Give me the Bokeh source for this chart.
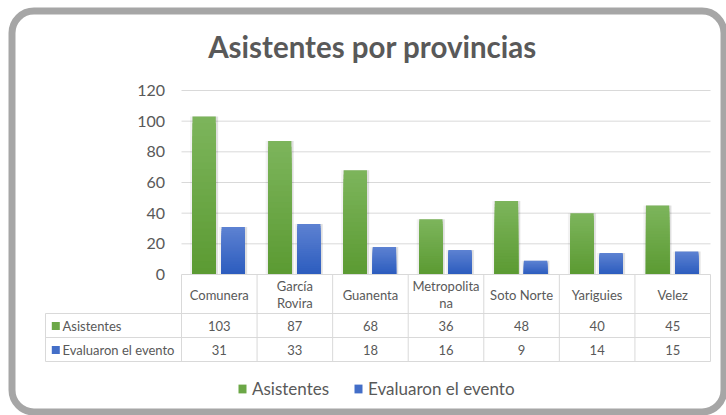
from bokeh.plotting import figure
from bokeh.models import Range1d, Legend, LegendItem, ColumnDataSource
from bokeh.core.properties import value
from bokeh.embed import file_html
from bokeh.resources import INLINE

# ---------------- data ----------------
title = "Asistentes por provincias"
provincias = ["Comunera", "García Rovira", "Guanenta", "Metropolitana",
              "Soto Norte", "Yariguies", "Velez"]
header_lines = [["Comunera"], ["García", "Rovira"], ["Guanenta"],
                ["Metropolita", "na"], ["Soto Norte"], ["Yariguies"], ["Velez"]]
asistentes = [103, 87, 68, 36, 48, 40, 45]
evaluaron = [31, 33, 18, 16, 9, 14, 15]
series_names = ["Asistentes", "Evaluaron el evento"]
y_ticks = [0, 20, 40, 60, 80, 100, 120]

# ---------------- layout helpers (pixel -> data) ----------------
W, H = 726, 415
COL0 = 181.0
COLW = 529.0 / 7
Y0 = 274.0
PPU = 184.0 / 120


def dx(px):
    return (px - COL0) / COLW


def dy(py):
    return (Y0 - py) / PPU


TXT = "#595959"
GRID = "#d9d9d9"
GREEN_TOP, GREEN_BOT = "#7db55c", "#5b9a32"
BLUE_TOP, BLUE_BOT = "#5d82d2", "#2c5cbe"
FONT = value("Lato")


def hex2rgb(h):
    return tuple(int(h[i:i + 2], 16) for i in (1, 3, 5))


def lerp(c_bot, c_top, t):
    a, b = hex2rgb(c_bot), hex2rgb(c_top)
    return "#%02x%02x%02x" % tuple(round(a[j] + (b[j] - a[j]) * t) for j in range(3))


p = figure(width=W, height=H, output_backend="svg", toolbar_location=None,
           x_range=Range1d(dx(0), dx(W)),
           y_range=Range1d(dy(H), dy(0)),
           x_axis_location=None, y_axis_location=None,
           min_border=0, outline_line_color=None,
           background_fill_color="white", border_fill_color="white")
p.grid.visible = False

# rounded frame
p.quad(left=dx(11.5), right=dx(723.5), top=dy(10.5), bottom=dy(411.5),
       fill_color=None, line_color="#a6a6a6", line_width=7, border_radius=22)

# title
p.text(x=[dx(372)], y=[dy(45.5)], text=[title], text_font=FONT,
       text_font_size="29.5px", text_font_style="bold", text_color=TXT,
       text_align="center", text_baseline="middle")

# gridlines and y tick labels
n = len(provincias)
p.segment(x0=[0] * (len(y_ticks) - 1), x1=[n] * (len(y_ticks) - 1),
          y0=y_ticks[1:], y1=y_ticks[1:], line_color=GRID, line_width=1)
p.text(x=[dx(164.5)] * len(y_ticks), y=y_ticks, text=[str(t) for t in y_ticks],
       text_font=FONT, text_font_size="16px", text_color=TXT,
       text_align="right", text_baseline="middle")

# bars (soft shadow + vertical gradient made of overlapping layers)
idx = list(range(n))
BW = 0.308
OFF_G, OFF_B = -0.2, 0.185
for vals, off in ((asistentes, OFF_G), (evaluaron, OFF_B)):
    xs = [i + 0.5 + off for i in idx]
    p.vbar(x=xs, top=vals, bottom=0, width=BW + 5 / COLW,
           fill_color="black", fill_alpha=0.05, line_color=None)
    p.vbar(x=[x + 0.8 / COLW for x in xs], top=vals, bottom=0, width=BW + 2.5 / COLW,
           fill_color="black", fill_alpha=0.08, line_color=None)

K = 24
renderers = []
for vals, off, ctop, cbot in ((asistentes, OFF_G, GREEN_TOP, GREEN_BOT),
                              (evaluaron, OFF_B, BLUE_TOP, BLUE_BOT)):
    d = dict(x=[], top=[], color=[])
    for k in range(K):
        frac = (K - k) / K
        for i in idx:
            d["x"].append(i + 0.5 + off)
            d["top"].append(vals[i] * frac)
            d["color"].append(lerp(cbot, ctop, (K - k - 0.5) / K))
    r = p.vbar(x="x", top="top", bottom=0, width=BW, source=ColumnDataSource(d),
               fill_color="color", line_color=None)
    renderers.append(r)

# table lines
row_y = [dy(313), dy(337), dy(361)]
p.segment(x0=[0], x1=[n], y0=[0], y1=[0], line_color=GRID, line_width=1)
p.segment(x0=[dx(45)] * 3, x1=[n] * 3, y0=row_y, y1=row_y,
          line_color=GRID, line_width=1)
p.segment(x0=list(range(n + 1)), x1=list(range(n + 1)),
          y0=[0] * (n + 1), y1=[dy(361)] * (n + 1), line_color=GRID, line_width=1)
p.segment(x0=[dx(45)], x1=[dx(45)], y0=[dy(313)], y1=[dy(361)],
          line_color=GRID, line_width=1)

# header text
hx, hy, ht = [], [], []
for i, lines in enumerate(header_lines):
    if len(lines) == 1:
        hx.append(i + 0.5); hy.append(dy(294)); ht.append(lines[0])
    else:
        hx += [i + 0.5, i + 0.5]; hy += [dy(285.5), dy(302)]; ht += lines
p.text(x=hx, y=hy, text=ht, text_font=FONT, text_font_size="13px",
       text_color=TXT, text_align="center", text_baseline="middle")

# value rows
p.text(x=[i + 0.5 for i in idx], y=[dy(325.5)] * n, text=[str(v) for v in asistentes],
       text_font=FONT, text_font_size="13px", text_color=TXT,
       text_align="center", text_baseline="middle")
p.text(x=[i + 0.5 for i in idx], y=[dy(349.5)] * n, text=[str(v) for v in evaluaron],
       text_font=FONT, text_font_size="13px", text_color=TXT,
       text_align="center", text_baseline="middle")

# series name column
p.scatter(x=[dx(55.3)] * 2, y=[dy(325.5), dy(349.5)], marker="square", size=8,
          fill_color=[lerp(GREEN_BOT, GREEN_TOP, 0.5), lerp(BLUE_BOT, BLUE_TOP, 0.5)],
          line_color=None)
p.text(x=[dx(62)] * 2, y=[dy(325.5), dy(349.5)], text=series_names,
       text_font=FONT, text_font_size="13px", text_color=TXT,
       text_align="left", text_baseline="middle")

# legend
mid = (K // 2) * n
legend = Legend(items=[LegendItem(label=series_names[0], renderers=[renderers[0]], index=mid),
                       LegendItem(label=series_names[1], renderers=[renderers[1]], index=mid)],
                orientation="horizontal", location=(237, 16),
                glyph_width=10, glyph_height=11, label_standoff=5, spacing=24,
                padding=0, margin=0, border_line_color=None,
                background_fill_alpha=0,
                label_text_font="Lato", label_text_font_size="17px",
                label_text_color=TXT)
p.add_layout(legend)

open("out.html", "w").write(file_html(p, INLINE))
